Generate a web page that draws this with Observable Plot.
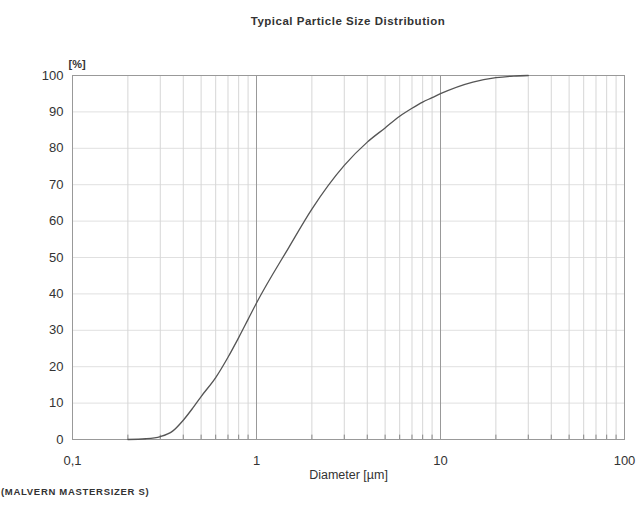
<!DOCTYPE html>
<html>
<head>
<meta charset="utf-8">
<script src="https://cdn.jsdelivr.net/npm/d3@7"></script>
<script src="https://cdn.jsdelivr.net/npm/@observablehq/plot@0.6"></script>
<style>
  html, body { margin: 0; padding: 0; background: #fff; }
  body { width: 638px; height: 510px; overflow: hidden; font-family: "Liberation Sans", Arial, sans-serif; color: #333; }
  #title { height: 40px; line-height: 42px; padding-left: 72px; width: 552px; text-align: center; font-size: 11.5px; font-weight: bold; letter-spacing: 0.5px; color: #333; }
  #chart svg { display: block; }
  #caption { height: 14px; line-height: 12px; font-size: 9.5px; font-weight: bold; letter-spacing: 0.7px; color: #333; padding-left: 1px; }
</style>
</head>
<body>
<div id="title">Typical Particle Size Distribution</div>
<div id="chart"></div>
<div id="caption">(MALVERN MASTERSIZER S)</div>
<script>
// Cumulative particle size distribution
const diameters = [0.2, 0.25, 0.3, 0.35, 0.4, 0.45, 0.5, 0.6, 0.7, 0.8, 0.9, 1, 1.5, 2, 3, 4, 5, 6, 7, 8, 9, 10, 15, 20, 25, 30];
const cumulative = [0, 0.2, 0.8, 2.3, 5.3, 8.6, 11.8, 17.0, 22.6, 28.0, 33.0, 37.5, 52.8, 63.3, 75.3, 81.7, 85.6, 88.8, 91, 92.7, 93.9, 95, 98.2, 99.4, 99.85, 100];

// Axis ticks and labels
const xTicks = [0.1, 1, 10, 100];
const xTickLabels = ["0,1", "1", "10", "100"];
const yTicks = [0, 10, 20, 30, 40, 50, 60, 70, 80, 90, 100];
const xMinorGrid = [0.2, 0.3, 0.4, 0.5, 0.6, 0.7, 0.8, 0.9, 2, 3, 4, 5, 6, 7, 8, 9, 20, 30, 40, 50, 60, 70, 80, 90];
const xMajorGrid = [1, 10];
const yGrid = [10, 20, 30, 40, 50, 60, 70, 80, 90];

const data = diameters.map((d, i) => ({d, v: cumulative[i]}));

const chart = Plot.plot({
  width: 638,
  height: 446,
  marginLeft: 72,
  marginRight: 14,
  marginTop: 35,
  marginBottom: 47,
  style: {fontFamily: "'Liberation Sans', Arial, sans-serif", fontSize: "13px", color: "#333", background: "#fff"},
  x: {type: "log", domain: [0.1, 100]},
  y: {domain: [0, 100]},
  marks: [
    Plot.ruleY(yGrid, {stroke: "#e0e0e0", strokeWidth: 1}),
    Plot.ruleX(xMinorGrid, {stroke: "#d6d6d6", strokeWidth: 1}),
    Plot.ruleX(xMinorGrid, {y1: 0, y2: 1.2, stroke: "#888", strokeWidth: 1}),
    Plot.ruleX(xMajorGrid, {stroke: "#999", strokeWidth: 1}),
    Plot.frame({stroke: "#999", strokeWidth: 1}),
    Plot.axisY({ticks: yTicks, tickSize: 0, tickPadding: 9, label: null, fill: "#333"}),
    Plot.axisX({ticks: xTicks, tickSize: 0, tickPadding: 16, tickFormat: (d) => xTickLabels[xTicks.indexOf(d)], label: null, fill: "#333"}),
    Plot.text(["Diameter [µm]"], {frameAnchor: "bottom", dy: 39, fontSize: 12.5, fill: "#333", style: "letter-spacing:0.5px"}),
    Plot.text(["[%]"], {frameAnchor: "top-left", dx: -4, dy: -15, textAnchor: "start", fontSize: 11, fontWeight: "bold", fill: "#333"}),
    Plot.line(data, {x: "d", y: "v", curve: "monotone-x", stroke: "#555", strokeWidth: 1.3})
  ]
});
document.getElementById("chart").appendChild(chart);
</script>
</body>
</html>
